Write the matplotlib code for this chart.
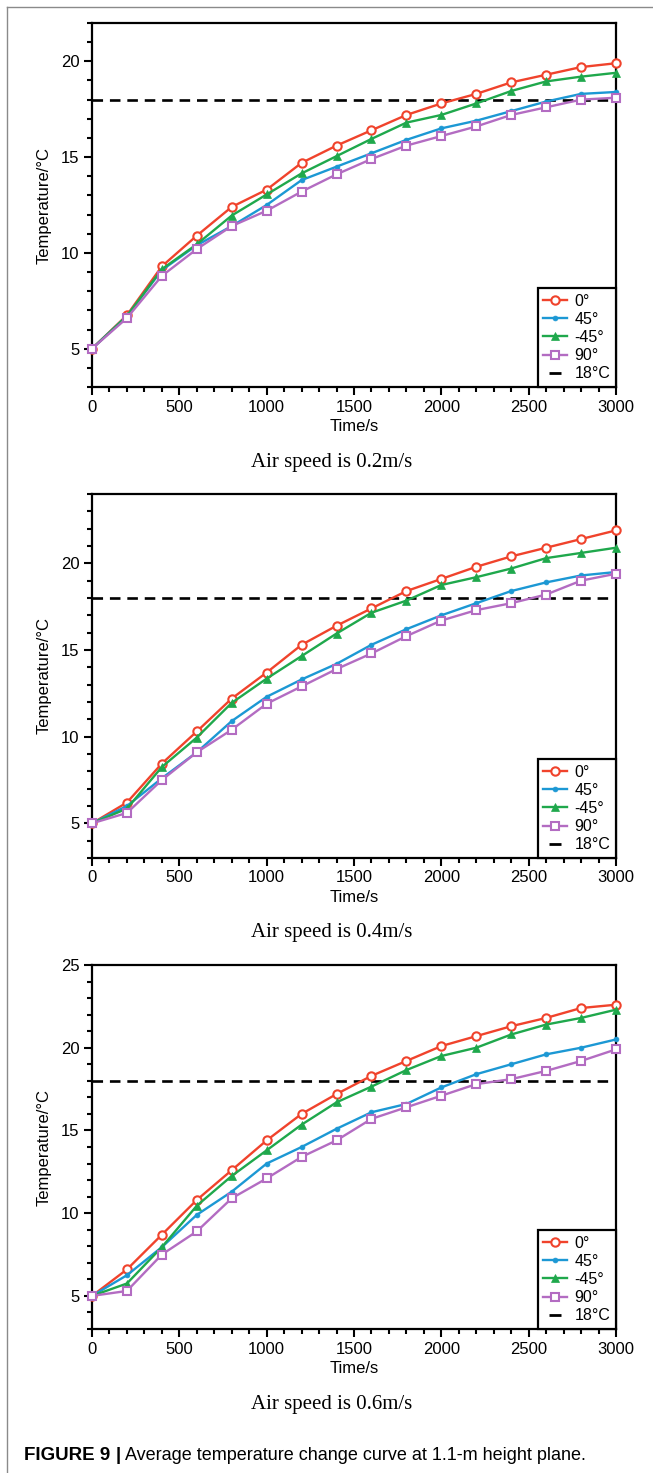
import matplotlib
matplotlib.use("Agg")
import matplotlib.pyplot as plt
from matplotlib.lines import Line2D
from matplotlib.ticker import MultipleLocator

plt.rcParams['font.family'] = ['Liberation Sans', 'DejaVu Sans']

# time axis (s)
time_s = [0, 200, 400, 600, 800, 1000, 1200, 1400, 1600, 1800, 2000, 2200, 2400, 2600, 2800, 3000]
angles = ["0°", "45°", "-45°", "90°"]
target_temp = 18
speed_captions = ["Air speed is 0.2m/s", "Air speed is 0.4m/s", "Air speed is 0.6m/s"]
y_tops = [22, 24, 25]

# air speed 0.2 m/s
t02_0 = [5, 6.75, 9.3, 10.9, 12.4, 13.3, 14.7, 15.6, 16.4, 17.2, 17.8, 18.3, 18.9, 19.3, 19.7, 19.9]
t02_45 = [5, 6.7, 9.1, 10.4, 11.4, 12.5, 13.8, 14.5, 15.2, 15.9, 16.5, 16.9, 17.4, 17.9, 18.3, 18.4]
t02_m45 = [5, 6.7, 9.15, 10.45, 11.95, 13.05, 14.15, 15.05, 15.95, 16.8, 17.2, 17.8, 18.45, 18.95, 19.2, 19.4]
t02_90 = [5, 6.6, 8.8, 10.2, 11.4, 12.2, 13.2, 14.1, 14.9, 15.6, 16.1, 16.6, 17.2, 17.6, 18.0, 18.1]

# air speed 0.4 m/s
t04_0 = [5, 6.2, 8.45, 10.3, 12.2, 13.7, 15.3, 16.4, 17.4, 18.4, 19.1, 19.8, 20.4, 20.9, 21.4, 21.9]
t04_45 = [5, 6.0, 7.6, 9.1, 10.9, 12.3, 13.3, 14.2, 15.3, 16.2, 17.0, 17.7, 18.4, 18.9, 19.3, 19.5]
t04_m45 = [5, 5.85, 8.25, 9.95, 11.95, 13.35, 14.65, 15.95, 17.15, 17.85, 18.75, 19.2, 19.7, 20.3, 20.6, 20.9]
t04_90 = [5, 5.6, 7.5, 9.1, 10.4, 11.9, 12.9, 13.9, 14.8, 15.8, 16.7, 17.3, 17.7, 18.2, 19.0, 19.4]

# air speed 0.6 m/s
t06_0 = [5, 6.6, 8.7, 10.8, 12.6, 14.4, 16.0, 17.2, 18.3, 19.2, 20.1, 20.7, 21.3, 21.8, 22.4, 22.6]
t06_45 = [5, 6.25, 7.95, 9.9, 11.3, 13.0, 14.0, 15.1, 16.1, 16.6, 17.6, 18.4, 19.0, 19.6, 20.0, 20.5]
t06_m45 = [5, 5.75, 7.95, 10.45, 12.25, 13.8, 15.35, 16.7, 17.65, 18.65, 19.5, 20.0, 20.8, 21.4, 21.8, 22.3]
t06_90 = [5, 5.3, 7.5, 8.9, 10.9, 12.1, 13.4, 14.4, 15.7, 16.4, 17.1, 17.8, 18.1, 18.6, 19.2, 19.9]

panels = [[t02_0, t02_45, t02_m45, t02_90],
          [t04_0, t04_45, t04_m45, t04_90],
          [t06_0, t06_45, t06_m45, t06_90]]

colors = ["#f0432c", "#1c98d4", "#1fa84c", "#b36cc2"]
styles = [dict(marker='o', ms=6, mfc='white', mew=1.5),
          dict(marker='o', ms=3.5, mew=0.5),
          dict(marker='^', ms=6, mew=0.5),
          dict(marker='s', ms=6, mfc='white', mew=1.5)]

W, H = 653, 1473
fig = plt.figure(figsize=(W / 100, H / 100), dpi=100)

# grey page frame
fig.add_artist(Line2D([7 / W, 7 / W], [0, 1 - 7 / H], color="#8a8a8a", lw=1.0))
fig.add_artist(Line2D([7 / W, 1], [1 - 7 / H, 1 - 7 / H], color="#8a8a8a", lw=1.0))

# axes boxes in pixels: (top, bottom)
boxes = [(23, 387), (494, 858), (965, 1329)]
left, right = 92, 616

for i, (top, bottom) in enumerate(boxes):
    ax = fig.add_axes([left / W, 1 - bottom / H, (right - left) / W, (bottom - top) / H])
    series = panels[i]
    for vals, col, st, lab in zip(series, colors, styles, angles):
        ax.plot(time_s, vals, color=col, lw=1.7, label=lab, clip_on=False, zorder=3, **st)
    ax.axhline(target_temp, color='black', lw=1.9, ls=(0, (4, 2.6)), zorder=2)

    ax.set_xlim(0, 3000)
    ax.set_ylim(3, y_tops[i])
    ax.xaxis.set_major_locator(MultipleLocator(500))
    ax.xaxis.set_minor_locator(MultipleLocator(100))
    ax.yaxis.set_minor_locator(MultipleLocator(1))
    ax.set_yticks([5, 10, 15, 20] + ([25] if y_tops[i] >= 25 else []))
    ax.tick_params(which='major', length=6, width=1.5, labelsize=12, pad=3)
    ax.tick_params(which='minor', length=3.5, width=1.5)
    for sp in ax.spines.values():
        sp.set_linewidth(1.6)

    ax.set_xlabel("Time/s", fontsize=12, labelpad=3)
    ax.set_ylabel("Temperature/°C", fontsize=12, labelpad=7)

    handles, labels = ax.get_legend_handles_labels()
    handles.append(Line2D([], [], color='black', ls='none', marker='_', ms=8, mew=2))
    labels.append(f"{target_temp}°C")
    leg = ax.legend(handles, labels, loc='lower right', borderaxespad=0, fancybox=False,
                    edgecolor='black', framealpha=1, fontsize=11.5, handlelength=1.5,
                    handletextpad=0.45, labelspacing=0.2, borderpad=0.35)
    leg.get_frame().set_linewidth(1.6)

    fig.text(332 / W, 1 - (bottom + 75) / H, speed_captions[i],
             family='Liberation Serif', fontsize=15, ha='center', va='center')

fig.text(24 / W, 1 - 1456 / H, "FIGURE 9", fontsize=13.5, fontweight='bold',
         va='center', ha='left')
fig.text(116 / W, 1 - 1456 / H, "|", fontsize=13.5, fontweight='bold',
         va='center', ha='left')
fig.text(125 / W, 1 - 1456 / H, "Average temperature change curve at 1.1-m height plane.",
         fontsize=13, va='center', ha='left')

fig.savefig("out.png", dpi=100)
